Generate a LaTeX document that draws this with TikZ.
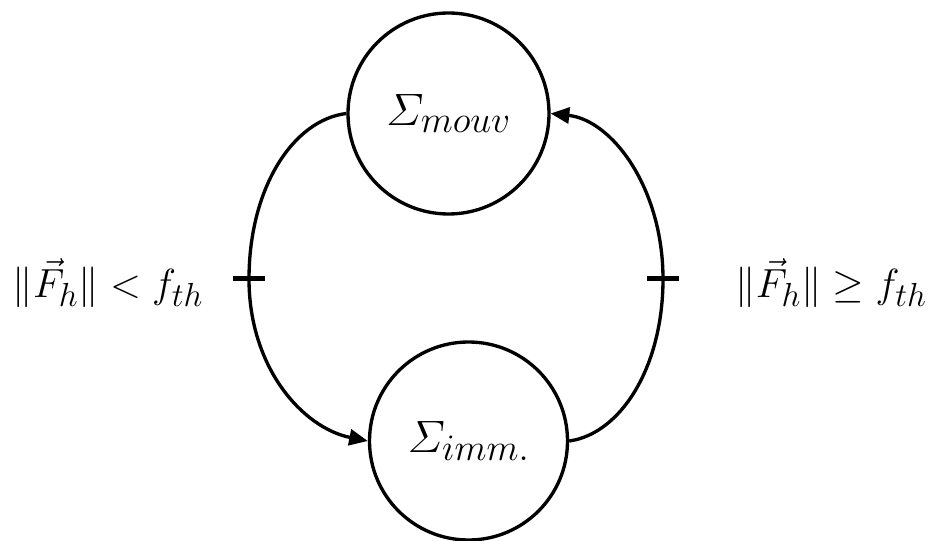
\RequirePackage{fix-cm}
\documentclass[tikz,border=0pt]{standalone}
\usepackage{amsmath}
\usetikzlibrary{arrows.meta}
\DeclareMathSizes{34}{34}{28}{20}
\DeclareMathSizes{30.5}{30.5}{25}{18}
\begin{document}
\begin{tikzpicture}[x=0.75pt,y=-0.75pt,
  font=\fontsize{34}{40}\selectfont,
  state/.style={circle, draw, line width=2.5pt, inner sep=0pt},
  conn/.style={line width=2.5pt},
  tip/.style={-{Triangle[length=14pt,width=12pt]}},
  tickmark/.style={line width=3.75pt},
  cond/.style={font=\fontsize{30.5}{36}\selectfont}]
\useasboundingbox (0,0) rectangle (930,541);
\node[state, minimum size=150.75pt] (T) at (448.5,113.5) {$\varSigma_{mouv}$};
\node[state, minimum size=148.5pt] (B) at (468.5,441) {$\varSigma_{imm.}$};
\coordinate (L) at (249,279);
\coordinate (R) at (663,279);
\draw[conn, tip] (T.west) .. controls (293,120) and (249,188) .. (L)
   .. controls (249,368) and (303,428) .. (B.west);
\draw[conn, tip] (B.east) .. controls (620,434) and (663,368) .. (R)
   .. controls (663,188) and (612,120) .. (T.east);
\draw[tickmark] ([xshift=-12pt]L) -- ([xshift=12pt]L);
\draw[tickmark] ([xshift=-12pt]R) -- ([xshift=12pt]R);
\node[cond] (lt) at (108,283) {$\|\vec{F}_h\| < f_{th}$};
\node[cond] (rt) at (831,283) {$\|\vec{F}_h\| \geq f_{th}$};
\end{tikzpicture}
\end{document}
